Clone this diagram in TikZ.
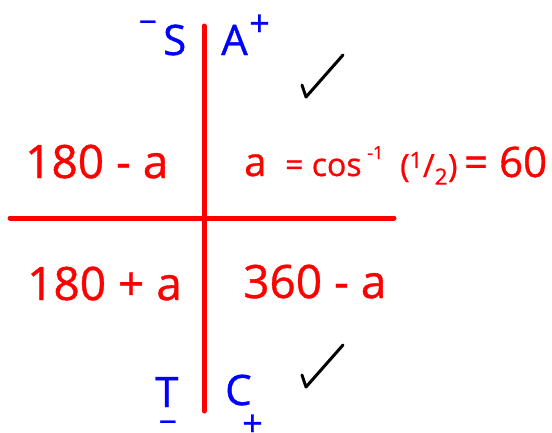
\documentclass[tikz,border=0pt]{standalone}
\usepackage{fontspec}
\setmainfont{Open Sans}[FakeBold=0.8]
\begin{document}
\begin{tikzpicture}[x=1pt,y=-1pt,font=\fontsize{46}{50}\selectfont,inner sep=0pt]
\useasboundingbox (0,0) rectangle (552,432);
\tikzset{axis/.style={red,line width=5pt,line cap=round},
  tick/.style={line width=3pt,line cap=round,line join=round},
  quad/.style={red,anchor=base west},
  sign/.style={blue,anchor=base west}}

\coordinate (top) at (204,26);
\coordinate (bot) at (204,411);
\coordinate (lft) at (10,218);
\coordinate (rgt) at (394,218);
\draw [axis](top)--(bot);
\draw [axis](lft)--(rgt);

% the four quadrants
\node [quad](second) at (25,178) {180 - a};
\node [quad](third) at (27,300) {180 + a};
\node [quad](fourth) at (243,298) {360 - a};
\node [quad,font=\fontsize{40}{42}\selectfont](fa) at (244,176) {a};
\node [quad,font=\fontsize{32}{34}\selectfont](fcos) at (285,176) {= cos};
\node [quad,font=\fontsize{18}{20}\selectfont](fexp) at (367,159) {-1};
\node [quad,font=\fontsize{32}{34}\selectfont](fhalf) at (400,177) {(\textsuperscript{1}/\textsubscript{2})};
\node [quad,font=\fontsize{42}{44}\selectfont](fval) at (464,177) {= 60};

% signs
\node [sign,font=\fontsize{42}{44}\selectfont](S) at (163,55) {S};
\node [sign,font=\fontsize{42}{44}\selectfont](A) at (221,55) {A};
\node [sign,font=\fontsize{42}{44}\selectfont](T) at (155,407) {T};
\node [sign,font=\fontsize{42}{44}\selectfont](C) at (225,405) {C};
\node [sign,font=\fontsize{32}{36}\selectfont](Sm) at (138.5,33) {−};
\node [sign,font=\fontsize{36}{40}\selectfont](Ap) at (249,36) {+};
\node [sign,font=\fontsize{32}{36}\selectfont](Tm) at (158.5,433) {−};
\node [sign,font=\fontsize{36}{40}\selectfont](Cp) at (242,436) {+};

\draw [tick](302,85)--(306,97)--(343,55);
\draw [tick](302,375)--(306,387)--(343,345);
\end{tikzpicture}
\end{document}
